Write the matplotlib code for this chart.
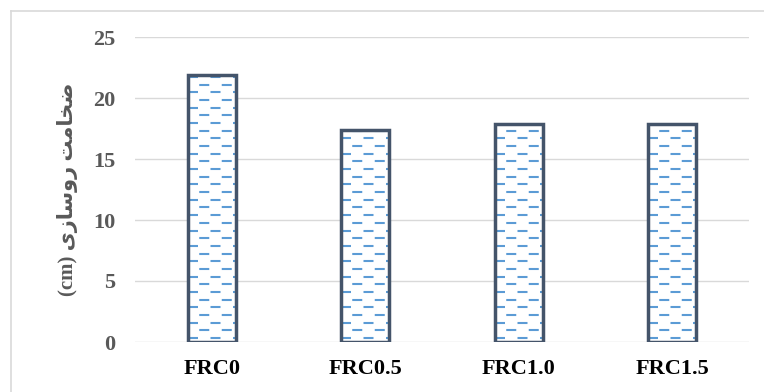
import matplotlib
matplotlib.use("Agg")
import matplotlib.pyplot as plt
from matplotlib.lines import Line2D
import numpy as np

mixes = ["FRC0", "FRC0.5", "FRC1.0", "FRC1.5"]
thickness = [21.9, 17.4, 17.9, 17.9]
yticks = [0, 5, 10, 15, 20, 25]

# Persian label, pre-shaped (presentation forms, visual order) since matplotlib has no bidi shaping
ylabel = "(cm) " + "\uFEEF\uFEAF\uFE8E\uFEB3\uFEED\uFEAD" + " " + "\uFE96\uFEE3\uFE8E\uFEA8\uFEBF"

edge_col = "#44546A"
dash_col = "#5B9BD5"
grid_col = "#D9D9D9"
tick_col = "#595959"

plt.rcParams["font.family"] = ["Liberation Serif", "DejaVu Sans"]
plt.rcParams["font.weight"] = "bold"

fig = plt.figure(figsize=(7.64, 3.92), dpi=100)
ax = fig.add_axes([135 / 764, 50 / 392, 614 / 764, 305 / 392])

x = np.arange(len(mixes))
bar_w = 0.31
fills = ax.bar(x, thickness, width=bar_w, color="white", linewidth=0, zorder=2)
ax.bar(x, thickness, width=bar_w, fill=False, edgecolor=edge_col,
       linewidth=2.5, zorder=4)

# dashed fill inside each bar, alternate rows shifted by half a period
row_step = 0.63
for b in fills:
    rows = np.arange(row_step / 2, b.get_height(), row_step)
    for i, yy in enumerate(rows):
        ln = ax.plot([b.get_x(), b.get_x() + b.get_width()], [yy, yy],
                     color=dash_col, lw=1.5, zorder=3,
                     linestyle=(5.4 * (i % 2), (4.8, 6.0)),
                     dash_capstyle="butt")[0]
        ln.set_clip_path(b)

ax.set_xlim(-0.5, len(mixes) - 0.5)
ax.set_ylim(0, 25)
ax.set_yticks(yticks)
ax.set_xticks(x)
ax.set_xticklabels(mixes)
ax.grid(axis="y", color=grid_col, lw=1.0, zorder=0)
ax.set_axisbelow(True)
for s in ax.spines.values():
    s.set_visible(False)
ax.tick_params(axis="both", length=0, labelsize=16)
ax.tick_params(axis="y", pad=14, labelcolor=tick_col)
ax.tick_params(axis="x", pad=12, labelcolor="black")

fig.text(68 / 764, 0.518, ylabel, rotation=90, ha="center", va="center",
         fontsize=15, fontweight="bold", color=tick_col)

# chart area border
fig.add_artist(Line2D([10.5 / 764, 10.5 / 764], [0, 381.5 / 392],
                      color=grid_col, lw=1.2, transform=fig.transFigure))
fig.add_artist(Line2D([10.5 / 764, 1], [381.5 / 392, 381.5 / 392],
                      color=grid_col, lw=1.2, transform=fig.transFigure))

fig.savefig("out.png", dpi=100)
